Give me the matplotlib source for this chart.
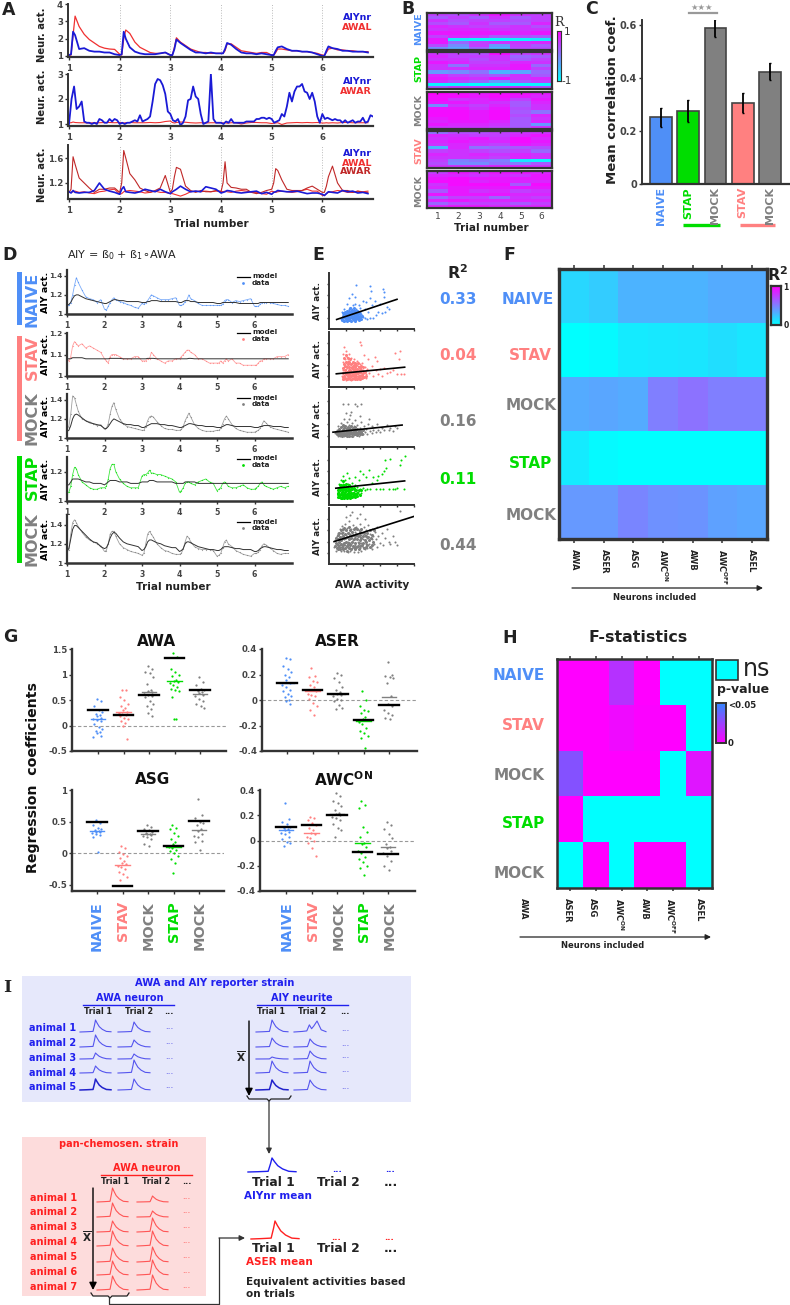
#!/usr/bin/env python3
"""Multi-panel AIY / AWA activity figure (A-I), laid out in pixel positions."""
import numpy as np
import matplotlib
matplotlib.use("Agg")
import matplotlib.pyplot as plt
from matplotlib.colors import LinearSegmentedColormap
from matplotlib.patches import Rectangle

W, H = 790, 1305
C_NAIVE, C_STAV, C_MOCK, C_STAP = "#4f8ff7", "#ff8080", "#808080", "#00dd00"
C_DARK = "#333333"
C_BLUE, C_RED, C_DRED = "#1a1ad6", "#f03030", "#c02828"
C_IB, C_IR = "#2020ee", "#ff2020"

# ---------- data: panel A ----------
A_OFFS = [0, .04, .08, .12, .2, .3, .4, .5, .6, .7, .8, .9]
A1_RED = [1.05, 1.05, 2.2, 3.3, 2.7, 2.25, 1.95, 1.75, 1.55, 1.45, 1.4, 1.38,
          1.1, 1.05, 2.0, 2.5, 2.3, 1.8, 1.5, 1.35, 1.2, 1.15, 1.15, 1.2,
          1.05, 1.05, 1.5, 2.05, 1.8, 1.6, 1.4, 1.3, 1.2, 1.2, 1.15, 1.15,
          1.15, 1.15, 1.3, 1.7, 1.7, 1.5, 1.3, 1.25, 1.2, 1.15, 1.2, 1.2,
          1.05, 1.05, 1.2, 1.4, 1.4, 1.35, 1.3, 1.3, 1.25, 1.25, 1.2, 1.15,
          1.05, 1.05, 1.2, 1.4, 1.45, 1.35, 1.35, 1.3, 1.3, 1.25, 1.25, 1.25]
A1_BLUE = [1.05, 1.1, 2.4, 2.2, 1.4, 1.45, 1.3, 1.25, 1.25, 1.2, 1.2, 1.1,
           1.05, 1.1, 2.4, 2.0, 1.5, 1.25, 1.15, 1.1, 1.1, 1.1, 1.15, 1.2,
           1.05, 1.05, 1.4, 1.95, 1.75, 1.55, 1.35, 1.2, 1.2, 1.15, 1.2, 1.15,
           1.15, 1.15, 1.4, 1.75, 1.65, 1.4, 1.2, 1.15, 1.15, 1.1, 1.15, 1.1,
           1.05, 1.05, 1.3, 1.5, 1.55, 1.4, 1.3, 1.3, 1.25, 1.25, 1.2, 1.1,
           1.0, 1.0, 1.3, 1.55, 1.45, 1.4, 1.3, 1.3, 1.25, 1.25, 1.25, 1.2]
A2_BLUE = [1.0, 2.0, 2.5, 1.6, 1.7, 1.9, 1.1, 1.05, 1.05, 1.0, 1.05, 1.0, 1.2, 1.15, 1.05, 1.05, 1.2, 1.1, 1.2, 1.15,
           1.0, 1.05, 1.0, 1.05, 1.05, 1.1, 1.15, 1.1, 1.35, 1.1, 1.15, 1.2, 1.3, 1.9, 2.6, 2.8, 2.75, 2.55, 2.2, 1.5,
           1.4, 1.15, 1.1, 1.2, .95, 1.05, 1.3, 1.95, 2.0, 2.5, 2.1, 2.0, 1.4, 1.0, 1.05, 1.1, 3.0, 1.2, 1.05, 1.05,
           1.05, 1.0, 1.1, 1.05, 1.2, 1.05, 1.05, 1.05, 1.05, 1.05, 1.1, 1.1, 1.1, 1.1, 1.2, 1.2, 1.25, 1.25, 1.2, 1.25,
           1.2, 1.05, 1.1, 1.15, 1.4, 1.3, 1.7, 2.25, 1.9, 2.3, 2.5, 2.5, 2.6, 2.3, 2.25, 2.0, 2.25, 1.9, 1.3, 1.05,
           1.4, 1.2, 1.25, 1.2, 1.15, 1.2, 1.15, 1.15, 1.05, 1.15, 1.05, 1.1, 1.15, 1.05, 1.1, 1.1, 1.25, 1.05, 1.1, 1.35, 1.3]
A2_RED = [1.05, 1.05, 1.08, 1.06, 1.05, 1.05, 1.04, 1.05, 1.05, 1.06, 1.06, 1.05,
          1.06, 1.05, 1.04, 1.05, 1.06, 1.05, 1.05, 1.05, 1.06, 1.05, 1.06, 1.1,
          1.12, 1.06, 1.04, 1.06, 1.08, 1.07, 1.05, 1.04, 1.05, 1.04, 1.05, 1.05,
          1.05, 1.04, 1.06, 1.03, 1.05, 1.05, 1.0, 1.04, 1.06, 1.06, 1.05, 1.05,
          1.02, 1.03, 1.04, 1.05, .98, 1.04, 1.05, 1.06, 1.05, 1.06, 1.05, 1.06,
          1.04, 1.04, 1.05, 1.04, 1.05, 1.04, 1.06, 1.06, 1.05, 1.05, 1.05, 1.05]
A3_RED = [1.05, 1.05, 1.06, 1.07, 1.05, 1.06, 1.04, 1.03, 1.06, 1.07, 1.09, 1.1,
          1.02, 1.03, 1.06, 1.07, 1.08, 1.07, 1.06, 1.04, 1.05, 1.07, 1.05, 1.05,
          1.03, 1.03, 1.02, 1.01, .99, 1.02, 1.06, 1.07, 1.06, 1.07, 1.06, 1.07,
          1.07, 1.06, 1.07, 1.06, 1.05, 1.07, 1.08, 1.07, 1.05, 1.05, 1.03, 1.02,
          1.07, 1.06, 1.05, 1.06, 1.07, 1.06, 1.05, 1.06, 1.08, 1.1, 1.07, 1.07,
          1.0, 1.0, 1.03, 1.05, 1.06, 1.08, 1.07, 1.05, 1.05, 1.07, 1.06, 1.07]
A3_DRED = [1.05, 1.1, 1.62, 1.5, 1.28, 1.2, 1.12, 1.05, 1.1, 1.1, 1.12, 1.12,
           1.05, 1.2, 1.72, 1.6, 1.35, 1.25, 1.12, 1.08, 1.05, 1.08, 1.12, 1.32,
           1.05, 1.1, 1.3, 1.45, 1.42, 1.15, 1.08, 1.05, 1.08, 1.06, 1.06, 1.08,
           1.06, 1.2, 1.54, 1.2, 1.13, 1.12, 1.1, 1.1, 1.05, 1.03, 1.05, 1.08,
           1.1, 1.2, 1.43, 1.4, 1.25, 1.1, 1.08, 1.08, 1.08, 1.12, 1.15, 1.1,
           1.05, 1.05, 1.15, 1.3, 1.47, 1.2, 1.08, 1.08, 1.05, 1.07, 1.05, 1.05]
A3_BLUE = [1.06, 1.04, 1.08, 1.05, 1.04, 1.05, 1.05, 1.08, 1.2, 1.1, 1.07, 1.05,
           1.02, 1.1, 1.14, 1.06, 1.05, 1.04, 1.06, 1.1, 1.08, 1.06, 1.1, 1.06,
           1.03, 1.06, 1.08, 1.1, 1.15, 1.1, 1.06, 1.07, 1.06, 1.14, 1.12, 1.1,
           1.04, 1.05, 1.06, 1.08, 1.07, 1.05, 1.04, 1.05, 1.06, 1.07, 1.03, 1.05,
           1.02, 1.05, 1.06, 1.08, 1.07, 1.06, 1.06, 1.07, 1.05, 1.03, 1.04, 1.04,
           1.02, 1.0, 1.03, 1.06, 1.05, 1.04, 1.08, 1.06, 1.07, 1.04, 1.05, 1.03]

# ---------- data: panel B ----------
B_NAIVE = [[.5, .4, .6, .8, .6, .5], [.3, .5, .3, .6, .3, .5], [.6, .4, .5, .5, .4, .5],
           [.4, .3, .6, .3, .3, .7], [.7, .6, .5, .5, .6, .4], [.6, .7, .7, .6, .6, .6],
           [.8, .8, .8, .8, .7, .8], [.5, .7, .6, .3, .4, .3], [.8, -.8, -.9, -.9, -.9, -.8],
           [.8, .2, .5, .6, .6, .7], [.4, -.1, .5, -.2, .5, .3], [-.1, -.3, .2, -.4, .4, .4]]
B_STAP = [[.6, .5, .4, .9, .5, .6], [.7, .5, .5, .6, .2, .3], [.6, .6, .4, .6, .3, .5],
          [.8, .7, .5, .5, .7, .6], [.6, .1, .6, .6, .8, .2], [.6, .6, .7, .7, .8, .5],
          [-.2, -.1, .1, -.4, -.3, .2], [.7, .5, .4, .3, .6, .3], [.8, .7, .6, .8, .6, .7],
          [.6, .4, .2, -.2, .3, .5], [-.9, -.9, -1, -.9, -.9, -.9], [.3, .5, .5, .6, .6, .4]]
B_MOCK1 = [[1, .9, .8, .9, .9, .8], [.9, .9, .8, .9, .8, .7], [.9, .6, .7, .8, .5, .8],
           [.8, .8, .7, .6, .3, .7], [-.1, .6, .5, .7, .3, .6], [.8, .8, .6, .8, .4, .6],
           [.9, .9, .8, .9, .3, .1], [.9, .9, .8, .9, .4, .7], [.8, .9, .8, .9, .3, .6],
           [.7, .8, .8, .7, .3, .7], [.8, .7, .7, .6, .3, -.2], [.6, .6, .6, .5, .3, .6]]
B_STAV = [[.1, .4, .4, .5, .6, .6], [.7, .6, .5, .5, .7, .8], [.6, .7, .8, .6, .9, .7],
          [.7, .8, .7, .7, .9, .8], [.6, .7, .6, .5, .8, .7], [-.4, .7, .1, .2, .3, .4],
          [.5, .6, .5, .4, .5, .2], [.7, .6, .7, .6, .7, .6], [.6, .6, .6, .5, .7, .6],
          [.5, .0, .1, .0, -.8, -.9], [.4, -.1, -.1, .1, .0, .3], [.6, .6, .6, .7, .7, .6]]
B_MOCK2 = [[.5, .8, .7, .8, .8, .7], [.7, .7, .6, .7, .6, .8], [.8, .9, .8, .8, .8, .8],
           [.9, .9, .7, .8, .7, .7], [.6, .9, .9, .9, .3, .9], [.7, .8, .8, .8, .8, .8],
           [.3, .8, .6, .7, .5, .6], [.8, .8, .8, .8, .7, .7], [.2, .5, .5, .2, .6, .5],
           [.7, .8, .7, .7, .7, .7], [.2, .4, .5, .5, .3, .5], [.7, .8, .8, .7, .7, .7]]

# ---------- data: panel C ----------
C_LABELS = ["NAIVE", "STAP", "MOCK", "STAV", "MOCK"]
C_COLORS = [C_NAIVE, C_STAP, C_MOCK, C_STAV, C_MOCK]
C_VALS = [.252, .276, .588, .306, .425]
C_ERRS = [.036, .041, .034, .037, .032]

# ---------- data: panel D ----------
D_OFFS = [0, .05, .1, .15, .2, .25, .3, .4, .5, .6, .7, .8, .9]
D1_DATA = [1.08, 1.09, 1.12, 1.2, 1.3, 1.38, 1.33, 1.25, 1.18, 1.16, 1.15, 1.12, 1.15,
           1.05, 1.04, 1.08, 1.12, 1.15, 1.17, 1.15, 1.13, 1.12, 1.1, 1.09, 1.07, 1.06,
           1.11, 1.1, 1.12, 1.14, 1.17, 1.2, 1.19, 1.17, 1.15, 1.15, 1.15, 1.16, 1.17,
           1.09, 1.09, 1.1, 1.13, 1.15, 1.2, 1.16, 1.14, 1.11, 1.09, 1.09, 1.09, 1.09,
           1.09, 1.09, 1.09, 1.1, 1.14, 1.15, 1.15, 1.12, 1.14, 1.13, 1.14, 1.15, 1.16,
           1.08, 1.08, 1.08, 1.1, 1.12, 1.12, 1.12, 1.12, 1.11, 1.1, 1.09, 1.09, 1.08]
D1_MODEL = [1.09, 1.1, 1.12, 1.16, 1.19, 1.2, 1.2, 1.18, 1.16, 1.15, 1.14, 1.13, 1.12,
            1.11, 1.11, 1.12, 1.13, 1.14, 1.15, 1.15, 1.14, 1.14, 1.13, 1.13, 1.13, 1.13,
            1.12, 1.12, 1.12, 1.13, 1.13, 1.14, 1.14, 1.14, 1.13, 1.13, 1.13, 1.13, 1.13,
            1.12, 1.12, 1.13, 1.14, 1.14, 1.14, 1.13, 1.13, 1.12, 1.12, 1.12, 1.12, 1.12,
            1.11, 1.11, 1.11, 1.12, 1.12, 1.12, 1.12, 1.12, 1.12, 1.11, 1.11, 1.11, 1.11,
            1.11, 1.11, 1.11, 1.12, 1.12, 1.12, 1.12, 1.12, 1.12, 1.12, 1.12, 1.12, 1.12]
D2_DATA = [1.08, 1.07, 1.09, 1.14, 1.16, 1.15, 1.14, 1.15, 1.13, 1.14, 1.13, 1.12, 1.11,
           1.08, 1.07, 1.06, 1.09, 1.1, 1.1, 1.1, 1.09, 1.08, 1.08, 1.08, 1.09, 1.09,
           1.07, 1.07, 1.07, 1.08, 1.08, 1.11, 1.1, 1.08, 1.07, 1.06, 1.07, 1.07, 1.08,
           1.08, 1.09, 1.1, 1.11, 1.12, 1.12, 1.11, 1.1, 1.08, 1.08, 1.07, 1.06, 1.06,
           1.06, 1.06, 1.07, 1.06, 1.07, 1.08, 1.07, 1.08, 1.06, 1.06, 1.05, 1.05, 1.05,
           1.05, 1.05, 1.06, 1.07, 1.07, 1.08, 1.08, 1.08, 1.08, 1.09, 1.09, 1.09, 1.1]
D2_MODEL = [1.08, 1.08, 1.08, 1.085, 1.085, 1.085, 1.085, 1.085, 1.08, 1.08, 1.08, 1.08, 1.08,
            1.08, 1.08, 1.08, 1.082, 1.082, 1.082, 1.082, 1.082, 1.08, 1.08, 1.08, 1.08, 1.08,
            1.08, 1.08, 1.08, 1.082, 1.082, 1.082, 1.082, 1.08, 1.08, 1.08, 1.08, 1.08, 1.08,
            1.08, 1.08, 1.08, 1.08, 1.08, 1.082, 1.082, 1.08, 1.08, 1.08, 1.08, 1.08, 1.08,
            1.08, 1.08, 1.08, 1.08, 1.08, 1.08, 1.08, 1.08, 1.08, 1.08, 1.08, 1.08, 1.08,
            1.08, 1.08, 1.08, 1.08, 1.08, 1.08, 1.08, 1.08, 1.08, 1.08, 1.08, 1.08, 1.08]
D3_DATA = [1.1, 1.12, 1.25, 1.44, 1.42, 1.35, 1.28, 1.2, 1.18, 1.17, 1.15, 1.13, 1.14,
           1.09, 1.1, 1.15, 1.25, 1.33, 1.37, 1.3, 1.2, 1.15, 1.12, 1.11, 1.1, 1.09,
           1.08, 1.08, 1.12, 1.18, 1.22, 1.23, 1.22, 1.17, 1.13, 1.1, 1.09, 1.09, 1.08,
           1.08, 1.09, 1.12, 1.18, 1.22, 1.26, 1.22, 1.14, 1.1, 1.08, 1.07, 1.07, 1.07,
           1.08, 1.08, 1.1, 1.15, 1.2, 1.23, 1.2, 1.14, 1.1, 1.08, 1.07, 1.06, 1.06,
           1.06, 1.07, 1.08, 1.1, 1.14, 1.18, 1.16, 1.12, 1.1, 1.09, 1.08, 1.07, 1.06]
D3_MODEL = [1.07, 1.08, 1.13, 1.2, 1.24, 1.25, 1.24, 1.21, 1.18, 1.16, 1.15, 1.14, 1.13,
            1.1, 1.1, 1.12, 1.15, 1.18, 1.2, 1.19, 1.17, 1.15, 1.14, 1.14, 1.13, 1.13,
            1.11, 1.11, 1.12, 1.13, 1.14, 1.15, 1.15, 1.15, 1.14, 1.14, 1.13, 1.13, 1.12,
            1.11, 1.11, 1.12, 1.13, 1.14, 1.15, 1.15, 1.14, 1.13, 1.13, 1.12, 1.12, 1.12,
            1.11, 1.11, 1.11, 1.12, 1.13, 1.14, 1.14, 1.13, 1.12, 1.12, 1.12, 1.12, 1.12,
            1.11, 1.11, 1.11, 1.12, 1.12, 1.13, 1.13, 1.13, 1.12, 1.12, 1.12, 1.11, 1.11]
D4_DATA = [1.05, 1.06, 1.1, 1.18, 1.23, 1.22, 1.18, 1.13, 1.11, 1.09, 1.08, 1.08, 1.09,
           1.09, 1.1, 1.15, 1.22, 1.25, 1.25, 1.2, 1.15, 1.12, 1.1, 1.09, 1.09, 1.09,
           1.17, 1.18, 1.18, 1.19, 1.21, 1.19, 1.19, 1.18, 1.18, 1.17, 1.16, 1.15, 1.13,
           1.06, 1.07, 1.09, 1.12, 1.13, 1.13, 1.12, 1.11, 1.13, 1.14, 1.15, 1.13, 1.12,
           1.07, 1.08, 1.09, 1.12, 1.13, 1.12, 1.1, 1.09, 1.09, 1.1, 1.11, 1.09, 1.08,
           1.08, 1.09, 1.1, 1.12, 1.13, 1.11, 1.1, 1.09, 1.08, 1.09, 1.1, 1.09, 1.1]
D4_MODEL = [1.11, 1.11, 1.13, 1.15, 1.15, 1.15, 1.15, 1.14, 1.13, 1.13, 1.12, 1.12, 1.12,
            1.11, 1.12, 1.13, 1.14, 1.14, 1.14, 1.14, 1.13, 1.13, 1.13, 1.12, 1.12, 1.12,
            1.13, 1.13, 1.13, 1.13, 1.14, 1.14, 1.14, 1.13, 1.13, 1.13, 1.13, 1.13, 1.12,
            1.12, 1.12, 1.12, 1.13, 1.13, 1.13, 1.13, 1.13, 1.12, 1.12, 1.12, 1.12, 1.12,
            1.12, 1.12, 1.12, 1.12, 1.12, 1.12, 1.12, 1.12, 1.12, 1.12, 1.12, 1.12, 1.12,
            1.12, 1.12, 1.12, 1.12, 1.12, 1.12, 1.12, 1.12, 1.12, 1.12, 1.12, 1.12, 1.12]
D5_DATA = [1.12, 1.14, 1.3, 1.42, 1.45, 1.42, 1.38, 1.32, 1.27, 1.24, 1.22, 1.2, 1.18,
           1.12, 1.13, 1.2, 1.3, 1.33, 1.33, 1.28, 1.2, 1.16, 1.14, 1.12, 1.11, 1.1,
           1.08, 1.1, 1.2, 1.3, 1.33, 1.3, 1.27, 1.2, 1.16, 1.13, 1.12, 1.1, 1.09,
           1.09, 1.1, 1.15, 1.22, 1.28, 1.26, 1.22, 1.17, 1.15, 1.14, 1.14, 1.14, 1.13,
           1.07, 1.08, 1.1, 1.16, 1.22, 1.24, 1.2, 1.17, 1.13, 1.11, 1.09, 1.08, 1.07,
           1.1, 1.1, 1.11, 1.14, 1.18, 1.2, 1.19, 1.16, 1.13, 1.1, 1.09, 1.1, 1.1]
D5_MODEL = [1.13, 1.15, 1.25, 1.35, 1.39, 1.39, 1.37, 1.33, 1.29, 1.25, 1.22, 1.21, 1.17,
            1.15, 1.16, 1.2, 1.26, 1.3, 1.32, 1.31, 1.26, 1.22, 1.2, 1.19, 1.18, 1.17,
            1.13, 1.14, 1.17, 1.22, 1.24, 1.24, 1.23, 1.21, 1.2, 1.18, 1.17, 1.16, 1.16,
            1.12, 1.13, 1.15, 1.2, 1.22, 1.22, 1.21, 1.19, 1.17, 1.16, 1.15, 1.14, 1.14,
            1.13, 1.13, 1.14, 1.16, 1.17, 1.17, 1.17, 1.16, 1.15, 1.15, 1.14, 1.14, 1.14,
            1.12, 1.12, 1.13, 1.15, 1.16, 1.17, 1.17, 1.16, 1.15, 1.14, 1.14, 1.13, 1.13]

# ---------- data: panel E (axes fractions) ----------
E1_PTS = [(.14,.18),(.16,.2),(.17,.15),(.18,.24),(.19,.19),(.2,.27),(.2,.16),(.21,.22),(.22,.3),(.22,.18),
          (.23,.25),(.23,.35),(.24,.2),(.24,.28),(.25,.16),(.25,.32),(.26,.24),(.26,.38),(.27,.2),(.27,.29),
          (.28,.26),(.28,.42),(.29,.22),(.29,.34),(.3,.18),(.3,.3),(.31,.25),(.31,.44),(.32,.22),(.32,.36),
          (.33,.28),(.33,.2),(.34,.33),(.35,.24),(.35,.42),(.36,.3),(.37,.2),(.37,.38),(.38,.27),(.4,.22),
          (.4,.5),(.42,.2),(.42,.36),(.44,.48),(.45,.18),(.46,.3),(.48,.55),(.48,.2),(.5,.42),(.52,.2),
          (.54,.5),(.55,.25),(.58,.3),(.6,.45),(.62,.28),(.65,.58),(.66,.3),(.68,.4),(.7,.35),(.32,.78),
          (.48,.76),(.49,.68),(.63,.72),(.65,.66),(.18,.36),(.15,.3),(.21,.44),(.24,.55),(.27,.62),(.3,.58)]
E1_BLOB = [(.15,.16),(.16,.24),(.17,.2),(.17,.28),(.18,.15),(.18,.22),(.19,.26),(.19,.31),(.2,.18),(.2,.23),
           (.21,.14),(.21,.27),(.21,.33),(.22,.2),(.22,.24),(.23,.16),(.23,.29),(.24,.22),(.24,.33),(.25,.19),
           (.25,.26),(.25,.37),(.26,.15),(.26,.21),(.26,.3),(.27,.24),(.27,.34),(.28,.18),(.28,.21),(.28,.31),
           (.29,.16),(.29,.27),(.29,.38),(.3,.23),(.3,.26),(.31,.15),(.31,.2),(.31,.33),(.32,.27),(.32,.17),
           (.33,.23),(.33,.32),(.34,.19),(.34,.27),(.35,.16),(.35,.3),(.36,.22),(.37,.26),(.38,.18),(.39,.24)]
E2_PTS = [(.15,.2),(.16,.3),(.17,.45),(.17,.6),(.18,.15),(.18,.36),(.18,.72),(.19,.25),(.19,.5),(.2,.12),
          (.2,.32),(.2,.66),(.21,.2),(.21,.42),(.21,.55),(.22,.28),(.22,.14),(.22,.48),(.23,.36),(.23,.22),
          (.24,.6),(.24,.3),(.24,.16),(.25,.42),(.25,.24),(.26,.34),(.26,.13),(.26,.52),(.27,.2),(.27,.44),
          (.28,.28),(.28,.16),(.28,.38),(.29,.5),(.29,.24),(.3,.14),(.3,.34),(.31,.42),(.31,.22),(.32,.3),
          (.32,.16),(.33,.48),(.33,.26),(.34,.2),(.34,.38),(.35,.3),(.35,.14),(.36,.42),(.36,.22),(.37,.35),
          (.38,.26),(.38,.16),(.39,.44),(.4,.3),(.4,.2),(.41,.58),(.42,.36),(.43,.24),(.44,.16),(.45,.32),
          (.37,.82),(.38,.76),(.46,.5),(.47,.26),(.5,.38),(.52,.2),(.54,.54),(.55,.3),(.57,.48),(.58,.24),
          (.6,.32),(.62,.2),(.65,.34),(.68,.26),(.72,.28),(.75,.3),(.78,.62),(.8,.24),(.82,.5),(.85,.24),
          (.88,.24),(.84,.65)]
E2_BLOB = [(.16,.18),(.16,.26),(.17,.14),(.17,.34),(.18,.2),(.18,.42),(.18,.52),(.19,.16),(.19,.3),(.19,.38),
           (.2,.24),(.2,.46),(.2,.58),(.21,.14),(.21,.28),(.21,.36),(.22,.2),(.22,.42),(.22,.52),(.23,.16),
           (.23,.3),(.23,.46),(.24,.24),(.24,.36),(.24,.2),(.25,.14),(.25,.3),(.25,.5),(.26,.2),(.26,.28),
           (.26,.42),(.27,.14),(.27,.26),(.27,.36),(.28,.22),(.28,.32),(.28,.46),(.29,.16),(.29,.3),(.29,.4),
           (.3,.2),(.3,.26),(.3,.44),(.31,.15),(.31,.3),(.31,.36),(.32,.2),(.32,.26),(.32,.4),(.33,.14),
           (.33,.32),(.34,.16),(.34,.26),(.34,.44),(.35,.2),(.35,.36),(.36,.15),(.36,.28),(.36,.34),(.37,.2),
           (.37,.27),(.38,.3),(.38,.38),(.39,.16),(.39,.22),(.4,.26),(.4,.36),(.41,.18),(.42,.28),(.43,.2)]
E3_PTS = [(.07,.24),(.09,.3),(.1,.2),(.11,.36),(.12,.26),(.13,.2),(.14,.42),(.15,.3),(.16,.23),(.17,.36),
          (.18,.2),(.18,.5),(.19,.28),(.2,.34),(.2,.22),(.21,.44),(.22,.3),(.23,.2),(.23,.38),(.24,.25),
          (.25,.56),(.25,.33),(.26,.22),(.27,.42),(.28,.28),(.28,.2),(.29,.36),(.3,.24),(.3,.48),(.31,.3),
          (.32,.22),(.33,.38),(.34,.27),(.35,.2),(.36,.33),(.37,.24),(.38,.44),(.39,.3),(.4,.22),(.41,.36),
          (.42,.26),(.44,.32),(.45,.22),(.46,.4),(.48,.28),(.5,.24),(.5,.36),(.52,.3),(.55,.26),(.57,.4),
          (.58,.3),(.6,.27),(.62,.34),(.65,.3),(.68,.38),(.7,.3),(.72,.34),(.75,.28),(.78,.36),(.8,.33),
          (.16,.75),(.22,.76),(.3,.76),(.33,.72),(.38,.76),(.2,.6),(.26,.62),(.36,.55),(.47,.5),(.24,.5)]
E3_BLOB = [(.08,.26),(.09,.22),(.1,.28),(.11,.24),(.12,.32),(.12,.21),(.13,.27),(.14,.23),(.14,.35),(.15,.25),
           (.15,.2),(.16,.3),(.16,.38),(.17,.22),(.17,.27),(.18,.33),(.18,.25),(.19,.21),(.19,.36),(.2,.28),
           (.21,.24),(.21,.31),(.21,.2),(.22,.35),(.22,.26),(.23,.23),(.23,.3),(.24,.2),(.24,.34),(.25,.27),
           (.26,.3),(.26,.36),(.27,.24),(.27,.2),(.28,.33),(.29,.26),(.29,.22),(.3,.29),(.31,.35),(.31,.23),
           (.32,.27),(.33,.21),(.33,.31),(.34,.24),(.35,.28),(.36,.23),(.37,.3),(.38,.26),(.39,.22),(.4,.29)]
E4_PTS = [(.1,.18),(.11,.3),(.12,.24),(.12,.38),(.13,.2),(.14,.45),(.14,.28),(.15,.16),(.15,.34),(.16,.24),
          (.16,.52),(.17,.2),(.17,.38),(.18,.28),(.18,.16),(.19,.44),(.19,.24),(.2,.32),(.2,.18),(.21,.58),
          (.21,.26),(.22,.2),(.22,.38),(.23,.28),(.23,.16),(.24,.48),(.24,.24),(.25,.34),(.25,.18),(.26,.26),
          (.27,.4),(.27,.2),(.28,.3),(.28,.17),(.29,.24),(.3,.36),(.3,.2),(.31,.28),(.32,.18),(.33,.32),
          (.34,.24),(.35,.2),(.35,.44),(.37,.28),(.38,.22),(.4,.3),(.4,.56),(.42,.26),(.44,.5),(.45,.28),
          (.47,.62),(.48,.28),(.5,.4),(.52,.5),(.55,.28),(.57,.44),(.58,.52),(.6,.28),(.62,.56),(.63,.28),
          (.65,.6),(.67,.66),(.7,.28),(.75,.28),(.78,.28),(.8,.3),(.83,.72),(.85,.8),(.88,.28),(.89,.88),
          (.66,.8),(.72,.82),(.3,.5),(.36,.6)]
E4_BLOB = [(.1,.22),(.1,.14),(.11,.2),(.11,.26),(.12,.14),(.12,.3),(.13,.26),(.13,.35),(.13,.17),(.14,.2),
           (.14,.12),(.14,.36),(.15,.24),(.15,.3),(.15,.13),(.16,.18),(.16,.32),(.16,.42),(.17,.14),(.17,.27),
           (.17,.33),(.18,.2),(.18,.36),(.18,.12),(.19,.3),(.19,.17),(.19,.24),(.2,.14),(.2,.26),(.2,.38),
           (.21,.2),(.21,.32),(.21,.13),(.22,.25),(.22,.3),(.22,.16),(.23,.22),(.23,.35),(.24,.14),(.24,.28),
           (.24,.18),(.25,.26),(.25,.13),(.26,.22),(.26,.32),(.26,.16),(.27,.28),(.27,.14),(.28,.22),(.29,.16),
           (.29,.3),(.3,.26),(.3,.15),(.31,.2),(.32,.26),(.33,.16),(.33,.22),(.35,.26),(.36,.17),(.38,.26)]
E5_PTS = [(.06,.3),(.07,.42),(.08,.24),(.09,.5),(.1,.34),(.1,.56),(.11,.26),(.12,.44),(.13,.62),(.13,.34),
          (.14,.24),(.15,.5),(.15,.68),(.16,.36),(.16,.28),(.17,.58),(.18,.44),(.18,.24),(.19,.72),(.19,.34),
          (.2,.52),(.2,.28),(.21,.64),(.22,.4),(.22,.22),(.23,.56),(.23,.3),(.24,.76),(.24,.46),(.25,.24),
          (.26,.62),(.26,.36),(.27,.5),(.27,.28),(.28,.7),(.28,.42),(.29,.22),(.3,.58),(.3,.34),(.31,.46),
          (.31,.26),(.32,.66),(.33,.52),(.33,.3),(.34,.4),(.34,.22),(.35,.6),(.36,.48),(.36,.28),(.37,.72),
          (.38,.38),(.38,.24),(.39,.56),(.4,.44),(.4,.3),(.41,.66),(.42,.52),(.42,.26),(.43,.36),(.44,.6),
          (.45,.46),(.45,.28),(.46,.7),(.47,.36),(.48,.54),(.49,.3),(.5,.62),(.5,.44),(.51,.26),(.52,.5),
          (.53,.36),(.54,.58),(.55,.44),(.56,.3),(.57,.66),(.58,.5),(.6,.38),(.62,.56),(.64,.34),(.66,.46),
          (.68,.62),(.7,.4),(.72,.36),(.75,.5),(.78,.4),(.8,.34),(.25,.88),(.27,.92),(.36,.9),(.33,.82),
          (.2,.84),(.42,.8),(.84,.95)]
E5_BLOB = [(.07,.32),(.08,.38),(.08,.46),(.09,.28),(.09,.36),(.1,.44),(.1,.26),(.11,.52),(.11,.34),(.12,.3),
           (.12,.4),(.12,.56),(.13,.26),(.13,.48),(.14,.36),(.14,.6),(.14,.42),(.15,.3),(.15,.56),(.16,.46),
           (.16,.62),(.17,.34),(.17,.26),(.17,.5),(.18,.38),(.18,.64),(.19,.54),(.19,.28),(.19,.46),(.2,.4),
           (.2,.6),(.21,.32),(.21,.48),(.21,.24),(.22,.56),(.22,.36),(.23,.44),(.23,.66),(.24,.28),(.24,.38),
           (.25,.52),(.25,.6),(.25,.34),(.26,.46),(.26,.26),(.27,.58),(.27,.4),(.28,.32),(.28,.52),(.29,.62),
           (.29,.44),(.29,.3),(.3,.5),(.3,.26),(.31,.38),(.31,.64),(.32,.54),(.32,.3),(.33,.44),(.33,.62),
           (.34,.32),(.34,.5),(.35,.38),(.35,.26),(.36,.58),(.36,.42),(.37,.32),(.37,.52),(.38,.46),(.38,.62),
           (.39,.34),(.4,.5),(.4,.38),(.41,.28),(.41,.56),(.42,.42),(.43,.5),(.43,.3),(.44,.4),(.45,.56),
           (.45,.34),(.46,.48),(.47,.42),(.48,.3),(.48,.6),(.49,.46),(.5,.34),(.51,.52),(.52,.4),(.53,.6)]
E_FITS = [([.09, .80], [.17, .53]), ([.086, .89], [.24, .36]), ([.047, .86], [.26, .385]),
          ([.08, .89], [.30, .43]), ([.06, 1.0], [.40, .85])]
E_R2 = ["0.33", "0.04", "0.16", "0.11", "0.44"]

# ---------- data: panel F ----------
NEURONS_F = ["AWA", "ASER", "ASG", "AWC$^{\\mathbf{ON}}$", "AWB", "AWC$^{\\mathbf{OFF}}$", "ASEL"]
F_VALS = [[.16, .2, .3, .3, .3, .33, .33],
          [.0, .02, .08, .09, .1, .13, .1],
          [.33, .35, .33, .5, .55, .5, .5],
          [.08, .02, 0, 0, 0, 0, 0],
          [.4, .4, .48, .43, .42, .37, .35]]

# ---------- data: panel G ----------
G_LABELS = ["NAIVE", "STAV", "MOCK", "STAP", "MOCK"]
G_COLORS = [C_NAIVE, C_STAV, C_MOCK, C_STAP, C_MOCK]
G_AWA = [[.52, .48, .38, .3, .27, .22, .2, .18, .15, .13, .1, .08, .02, -.02, -.06, -.1, -.13, -.15, -.2, -.22],
         [.7, .7, .55, .5, .42, .38, .35, .3, .27, .25, .22, .2, .18, .15, .12, .08, .05, 0, -.27],
         [1.17, 1.1, 1.05, 1.02, .95, .82, .7, .68, .65, .62, .6, .58, .55, .48, .42, .38, .32, .25, .18],
         [1.42, 1.35, 1.1, 1.05, 1.0, .98, .9, .87, .85, .83, .8, .75, .72, .7, .68, .55, .13, .12],
         [.95, .85, .8, .72, .7, .68, .65, .63, .6, .58, .52, .48, .42, .38, .35]]
G_AWA_MEAN, G_AWA_MODEL = [.12, .26, .65, .87, .61], [.3, .2, .59, 1.33, .7]
G_ASER = [[.33, .32, .27, .24, .22, .2, .18, .16, .13, .12, .1, .08, .07, .05, .03, .02, 0, -.01, -.03],
          [.25, .19, .18, .15, .14, .12, .1, .08, .07, .05, .04, .03, .01, -.02, -.05, -.08, -.12],
          [.21, .2, .17, .14, .1, .08, .06, .05, .04, .03, .01, 0, -.01, -.04, -.06, -.07],
          [.07, 0, -.05, -.08, -.09, -.1, -.13, -.15, -.16, -.17, -.19, -.22, -.24, -.26, -.28, -.3, -.38],
          [.3, .2, .19, .18, .17, .13, .03, -.03, -.05, -.08, -.1, -.12, -.14, -.15]]
G_ASER_MEAN, G_ASER_MODEL = [.13, .07, .05, -.165, .025], [.13, .08, .05, -.16, -.04]
G_ASG = [[.52, .47, .44, .4, .38, .37, .35, .34, .33, .32, .3, .28, .25, .02],
         [.11, .08, .02, -.02, -.05, -.08, -.12, -.15, -.18, -.2, -.22, -.25, -.3, -.33, -.38, -.43],
         [.44, .42, .38, .36, .34, .32, .31, .3, .28, .27, .25, .22, .15, .11],
         [.45, .4, .38, .32, .27, .22, .18, .15, .12, .1, .08, .05, .03, 0, -.05, -.1, -.16, -.31],
         [.85, .6, .55, .5, .48, .44, .38, .35, .3, .27, .25, .2, .18, .05]]
G_ASG_MEAN, G_ASG_MODEL = [.35, -.19, .3, .1, .36], [.5, -.52, .35, .11, .51]
G_AWC = [[.3, .17, .15, .13, .11, .1, .09, .08, .07, .06, .05, .03, .01, -.01, -.02, -.04],
         [.19, .18, .16, .14, .12, .1, .08, .06, .05, .03, .02, 0, -.02, -.06, -.12],
         [.38, .35, .31, .3, .27, .24, .22, .21, .2, .19, .18, .16, .13, .1, .08, .03],
         [.31, .28, .26, .11, .07, .03, -.02, -.03, -.05, -.08, -.1, -.13, -.15, -.17, -.2, -.22, -.27],
         [.15, .12, .09, .05, .02, -.03, -.05, -.06, -.08, -.1, -.12, -.16, -.2, -.23]]
G_AWC_MEAN, G_AWC_MODEL = [.08, .06, .21, -.02, -.05], [.11, .125, .2, -.09, -.11]
G_JITTER = [-.05, .1, -.14, .03, .16, -.09, .06, -.02, .12, -.18]

# ---------- data: panel H (nan = not significant) ----------
NS = np.nan
H_P = [[0, 0, .018, 0, NS, NS],
       [0, 0, .004, .001, 0, NS],
       [.03, 0, 0, 0, NS, .008],
       [0, NS, NS, NS, NS, NS],
       [NS, 0, NS, 0, .001, NS]]
NEURONS_H = ["ASER", "ASG", "AWC$^{\\mathbf{ON}}$", "AWB", "AWC$^{\\mathbf{OFF}}$", "ASEL"]

# ---------- data: panel I schematic trace shapes ----------
PEAK_X = [0, .2, .42, .47, .5, .55, .62, .72, .85, 1.0]
PEAK_Y = [0, .02, .05, .6, 1, .75, .45, .22, .05, .02]
DBL_X = [0, .25, .4, .48, .55, .62, .72, .85, 1.0]
DBL_Y = [0, .05, .1, .65, .3, .55, 1, .2, .03]
IB_H1 = [12, 12, 6, 7, 11]
IB_H2 = [10, 7, 5, 13, 11]
IB_H3 = [12, 9, 2, 12, 10]
IB_H4 = [0, 8, 8, 12, 10]
IR_H1 = [14, 14, 11, 15, 14, 14, 14]
IR_H2 = [6, 6, 14, 15, 15, 15, 15]

# ---------- style ----------
plt.rcParams.update({
    "font.family": "DejaVu Sans", "font.size": 6.2, "font.weight": "bold",
    "mathtext.fontset": "dejavusans", "mathtext.default": "regular",
    "axes.edgecolor": C_DARK, "axes.linewidth": 1.4,
    "xtick.color": C_DARK, "ytick.color": C_DARK,
    "xtick.labelcolor": "#444444", "ytick.labelcolor": "#444444",
    "xtick.major.size": 2, "ytick.major.size": 2,
    "xtick.major.width": 1.0, "ytick.major.width": 1.0,
    "xtick.major.pad": 3, "ytick.major.pad": 1.5,
})
cool = plt.get_cmap("cool")

fig = plt.figure(figsize=(W / 100, H / 100), dpi=100)


def px_ax(l, t, r, b):
    ax = fig.add_axes([l / W, 1 - b / H, (r - l) / W, (b - t) / H])
    ax.patch.set_alpha(0)
    return ax


def clean(ax):
    ax.spines[["top", "right"]].set_visible(False)


ov = fig.add_axes([0, 0, 1, 1], zorder=5)
ov.set_xlim(0, W); ov.set_ylim(H, 0); ov.axis("off")


def lab(x, y, s, size=7, color="k", ha="center", va="center", rot=0, weight="bold", **kw):
    return ov.text(x, y, s, fontsize=size, color=color, ha=ha, va=va, rotation=rot,
                   fontweight=weight, **kw)


for x, y, s in [(9, 10, "A"), (408, 9, "B"), (591, 9, "C"), (10, 255, "D"), (318, 255, "E"),
                (509, 255, "F"), (10, 637, "G"), (510, 638, "H"), (7, 987, "I")]:
    lab(x, y, s, size=12.5, color="#222222", family="DejaVu Sans" if s != "I" else "DejaVu Serif")

# ===== Panel A =====
grid_A = np.concatenate([t + np.array(A_OFFS) for t in range(1, 7)])
grid_A2 = 1 + .05 * np.arange(len(A2_BLUE))


def panel_a(t, b, ylim, yticks, series):
    ax = px_ax(68, t, 373, b)
    clean(ax)
    for v in range(2, 7):
        ax.axvline(v, color="#bbbbbb", lw=.7, ls=":", zorder=0)
    for xs, ys, c, lw in series:
        ax.plot(xs, ys, color=c, lw=lw, solid_joinstyle="round")
    ax.set_xlim(.98, 7); ax.set_ylim(*ylim)
    ax.set_xticks(range(1, 7)); ax.set_yticks(yticks)
    ax.set_yticklabels([str(v) for v in yticks])
    ax.spines["bottom"].set_linewidth(1.6)
    return ax


panel_a(4, 57, (.94, 4), [1, 2, 3, 4],
        [(grid_A, A1_RED, C_RED, .9), (grid_A, A1_BLUE, C_BLUE, 1.3)])
panel_a(74, 126, (.92, 3), [1, 2, 3],
        [(grid_A, A2_RED, C_RED, .8), (grid_A2, A2_BLUE, C_BLUE, 1.3)])
panel_a(145, 199, (.944, 1.808), [1.2, 1.6],
        [(grid_A, A3_RED, C_RED, .8), (grid_A, A3_DRED, C_DRED, .8), (grid_A, A3_BLUE, C_BLUE, 1.2)])
for y in (35, 97, 175):
    lab(42, y, "Neur. act.", size=7.2, rot=90, color="#222222")
for y, s, c in [(17, "AIYnr", C_BLUE), (27, "AWAL", C_RED), (82, "AIYnr", C_BLUE), (91, "AWAR", C_RED),
                (153, "AIYnr", C_BLUE), (163, "AWAL", C_RED), (172, "AWAR", C_DRED)]:
    lab(372, y, s, size=6.8, color=c, ha="right")
lab(211, 224, "Trial number", size=7.5, color="#222222")

# ===== Panel B =====
B_ROWS = [B_NAIVE, B_STAP, B_MOCK1, B_STAV, B_MOCK2]
B_TOPS = [(13, 50), (52, 89), (92, 129), (131, 168), (171, 208)]
B_NAMES = [("NAIVE", C_NAIVE, 29), ("STAP", C_STAP, 69), ("MOCK", C_MOCK, 110), ("STAV", C_STAV, 151), ("MOCK", C_MOCK, 191)]
for i, (vals, (t, b)) in enumerate(zip(B_ROWS, B_TOPS)):
    ax = px_ax(427, t, 552, b)
    ax.imshow(vals, cmap=cool, vmin=-1, vmax=1, aspect="auto", interpolation="nearest")
    ax.set_yticks([])
    ax.set_xticks(range(6))
    ax.tick_params(axis="x", top=True, bottom=False, direction="in", length=1.5,
                   labelbottom=i == 4, pad=3)
    if i == 4:
        ax.set_xticklabels(range(1, 7), fontweight="normal", fontsize=6.5)
    for sp in ax.spines.values():
        sp.set_linewidth(1.6)
    lab(419, B_NAMES[i][2], B_NAMES[i][0], size=6.8, color=B_NAMES[i][1], rot=90)
cax = px_ax(557, 31, 561, 81)
cax.imshow(np.linspace(1, 0, 64)[:, None], cmap=cool, aspect="auto")
cax.set_xticks([]); cax.set_yticks([])
for sp in cax.spines.values():
    sp.set_linewidth(.8)
lab(559, 22, "R", size=9, color="#333333", weight="normal", family="DejaVu Serif")
lab(564, 32, "1", size=7.5, color="#333333", weight="normal", ha="left")
lab(561, 81, "-1", size=7.5, color="#333333", weight="normal", ha="left")
lab(491, 228, "Trial number", size=7.5, color="#222222")

# ===== Panel C =====
ax = px_ax(642, 20, 790, 184)
clean(ax)
pos = np.arange(1, 6)
ax.bar(pos, C_VALS, width=.8, color=C_COLORS, edgecolor="#444444", lw=1.2)
ax.errorbar(pos, C_VALS, yerr=C_ERRS, fmt="none", ecolor="k", elinewidth=1.3, capsize=1, capthick=1)
ax.set_xlim(.30, 5.74); ax.set_ylim(0, .62)
ax.set_yticks([0, .2, .4, .6]); ax.set_yticklabels(["0", "0.2", "0.4", "0.6"], fontsize=7)
ax.set_xticks([])
ax.spines["bottom"].set_linewidth(1.6)
for x, s, c in zip([661, 688, 715, 742, 770], C_LABELS, C_COLORS):
    lab(x, 187, s, size=8, color=c, rot=90, va="top")
lab(613, 100, "Mean correlation coef.", size=9.5, rot=90, color="#222222")
ov.plot([683, 720], [225, 225], color=C_STAP, lw=2.4, solid_capstyle="butt")
ov.plot([740, 775], [225, 225], color=C_STAV, lw=2.4, solid_capstyle="butt")
ov.plot([689, 717], [12.5, 12.5], color="#999999", lw=1.6)
lab(702, 7, "★★★", size=6, color="#999999")

# ===== Panel D =====
grid_D = np.concatenate([t + np.array(D_OFFS) for t in range(1, 7)])
D_PANELS = [(270, 314, (1, 1.46), [1, 1.2, 1.4], D1_DATA, D1_MODEL, C_NAIVE, 277),
            (333, 376, (1, 1.2), [1, 1.1, 1.2], D2_DATA, D2_MODEL, C_STAV, 333),
            (394, 438, (1, 1.46), [1, 1.2, 1.4], D3_DATA, D3_MODEL, C_MOCK, 398),
            (457, 501, (1, 1.3), [1, 1.2], D4_DATA, D4_MODEL, C_STAP, 459),
            (515, 563, (1, 1.5), [1, 1.2, 1.4], D5_DATA, D5_MODEL, C_MOCK, 522)]
for t, b, ylim, yt, data, model, col, leg_y in D_PANELS:
    ax = px_ax(67, t, 292, b)
    clean(ax)
    ax.plot(grid_D, data, color=col, lw=.6, alpha=.75, marker="o", ms=.9, mew=0)
    ax.plot(grid_D, model, color="#333333", lw=.7)
    ax.set_xlim(1, 7); ax.set_ylim(*ylim)
    ax.set_xticks(range(1, 7)); ax.set_yticks(yt)
    ax.set_yticklabels([f"{v:g}" for v in yt], fontsize=5.3)
    ax.tick_params(axis="x", labelsize=5.6)
    ax.tick_params(axis="y", pad=1)
    ax.spines["bottom"].set_linewidth(1.8)
    ax.spines["left"].set_linewidth(1.6)
    lab(46, (t + b) / 2, "AIY act.", size=6.8, rot=90)
    ov.plot([237, 250], [leg_y, leg_y], color="k", lw=.9)
    ov.plot([243], [leg_y + 6], "o", color=col, ms=2, mew=0)
    lab(252, leg_y - .5, "model", size=5.2, ha="left", color="#222222")
    lab(252, leg_y + 6, "data", size=5.2, ha="left", color="#222222")
ov.add_patch(Rectangle((17, 272), 5, 53, color=C_NAIVE, lw=0))
ov.add_patch(Rectangle((17, 336), 5, 105, color=C_STAV, lw=0))
ov.add_patch(Rectangle((17, 456), 5, 107, color=C_STAP, lw=0))
for y, s, c in [(299, "NAIVE", C_NAIVE), (358, "STAV", C_STAV), (418, "MOCK", C_MOCK),
                (477, "STAP", C_STAP), (539, "MOCK", C_MOCK)]:
    lab(32, y, s, size=11.5, color=c, rot=90)
lab(67, 255, "AIY = ß$_0$ + ß$_1$∘AWA", size=8, ha="left", weight="normal", color="#222222")
lab(173, 587, "Trial number", size=7.5, color="#222222")

# ===== Panel E =====
E_SETS = [E1_PTS, E2_PTS, E3_PTS, E4_PTS, E5_PTS]
E_BLOBS = [E1_BLOB, E2_BLOB, E3_BLOB, E4_BLOB, E5_BLOB]
E_BOX = [(273, 329), (332, 387), (390, 447), (449, 505), (508, 564)]
E_COL = [C_NAIVE, C_STAV, C_MOCK, C_STAP, C_MOCK]
E_Y = [300, 355, 421, 480, 546]
for pts, blob, (t, b), col, fit, r2, ry in zip(E_SETS, E_BLOBS, E_BOX, E_COL, E_FITS, E_R2, E_Y):
    ax = px_ax(329, t, 414, b)
    clean(ax)
    xs, ys = np.array(pts).T
    ax.scatter(xs, ys, s=2.2, color=col, lw=0)
    xs, ys = np.array(blob).T
    ax.scatter(xs, ys, s=5, color=col, lw=0)
    ax.plot(fit[0], fit[1], color="k", lw=1.2)
    ax.set_xlim(0, 1); ax.set_ylim(0, 1)
    ax.set_xticks([.2, .4, .6, .8, 1.0]); ax.set_yticks([.2, .4, .6, .8])
    ax.tick_params(labelbottom=False, labelleft=False, length=1.5)
    lab(317, (t + b) / 2, "AIY act.", size=6.3, rot=90, color="#222222")
    lab(458, ry, r2, size=11, color=col)
lab(372, 585, "AWA activity", size=7.5, color="#222222")
lab(458, 273, "R$^{\\mathbf{2}}$", size=11.5, color="#222222")

# ===== Panel F =====
ax = px_ax(559, 269, 767, 539)
ax.imshow(F_VALS, cmap=cool, vmin=0, vmax=1, aspect="auto", interpolation="nearest")
ax.set_xticks(range(7)); ax.set_yticks([])
ax.tick_params(axis="x", top=True, length=3, width=1.1, labelbottom=False)
for sp in ax.spines.values():
    sp.set_linewidth(2.4)
for x, s in zip([574, 604, 633, 663, 692, 722, 751], NEURONS_F):
    lab(x, 549, s, size=6, rot=270, va="top", color="#222222")
for x, y, s, c in [(528, 299, "NAIVE", C_NAIVE), (530, 355, "STAV", C_STAV), (531, 406, "MOCK", C_MOCK),
                   (531, 463, "STAP", C_STAP), (531, 515, "MOCK", C_MOCK)]:
    lab(x, y, s, size=11, color=c)
cax = px_ax(771, 286, 781, 325)
cax.imshow(np.linspace(1, 0, 64)[:, None], cmap=cool, aspect="auto")
cax.set_xticks([]); cax.set_yticks([])
for sp in cax.spines.values():
    sp.set_linewidth(1.6)
lab(778, 275, "R$^{\\mathbf{2}}$", size=11.5, color="#222222")
lab(786, 287, "1", size=5.5, color="#222222")
lab(786, 325, "0", size=5.5, color="#222222")


def long_arrow(x0, x1, y, head=8):
    ov.annotate("", xy=(x1, y), xytext=(x0, y),
                arrowprops=dict(arrowstyle="-|>", color="#222222", lw=.9, mutation_scale=head,
                                shrinkA=0, shrinkB=0))


long_arrow(572, 763, 588)
lab(655, 597, "Neurons included", size=6, color="#222222")


# ===== Panel G =====
def strip_panel(l, r, t, b, x1px, ylim, yt, groups, means, models, title, tx, ty):
    ax = px_ax(l, t, r, b)
    clean(ax)
    ax.axhline(0, color="#999999", lw=.8, ls=(0, (3, 2)), zorder=0)
    for i, (vals, m, bl, c) in enumerate(zip(groups, means, models, G_COLORS)):
        xs = [i + 1 + G_JITTER[k % len(G_JITTER)] for k in range(len(vals))]
        ax.scatter(xs, vals, s=2.6, color=c, lw=0, zorder=2)
        ax.plot([i + .72, i + 1.28], [m, m], color=c, lw=1.0, zorder=3)
        ax.plot([i + .62, i + 1.38], [bl, bl], color="k", lw=1.7, zorder=4)
    step = 25.5
    ax.set_xlim(1 - (x1px - l) / step, 1 + (r - x1px) / step)
    ax.set_ylim(*ylim)
    ax.set_xticks(range(1, 6)); ax.set_xticklabels([])
    ax.set_yticks(yt); ax.set_yticklabels([f"{v:g}" for v in yt], fontsize=6.2)
    ax.spines["bottom"].set_linewidth(1.7); ax.spines["left"].set_linewidth(1.7)
    lab(tx, ty, title, size=11, color="#111111")
    return ax


strip_panel(72, 226, 649, 751, 98, (-.5, 1.5), [-.5, 0, .5, 1, 1.5], G_AWA, G_AWA_MEAN, G_AWA_MODEL, "AWA", 156, 642)
strip_panel(262, 417, 649, 751, 287, (-.4, .4), [-.4, -.2, 0, .2, .4], G_ASER, G_ASER_MEAN, G_ASER_MODEL, "ASER", 337, 642)
strip_panel(72, 224, 790, 891, 97, (-.6, 1), [-.5, 0, .5, 1], G_ASG, G_ASG_MEAN, G_ASG_MODEL, "ASG", 153, 780)
strip_panel(260, 415, 790, 891, 286, (-.4, .4), [-.4, -.2, 0, .2, .4], G_AWC, G_AWC_MEAN, G_AWC_MODEL,
            "AWC$^{\\mathbf{ON}}$", 343, 780)
lab(33, 778, "Regression  coefficients", size=10.2, rot=90, color="#111111")
for xs in ([97, 123, 149, 174, 200], [287, 313, 339, 364, 390]):
    for x, s, c in zip(xs, G_LABELS, G_COLORS):
        lab(x, 901, s, size=10.4, color=c, rot=90, va="top")

# ===== Panel H =====
hmap = LinearSegmentedColormap.from_list("pv", ["#ff00ff", "#3388ff"])
hmap.set_bad("#00ffff")
ax = px_ax(557, 659, 712, 888)
ax.imshow(np.ma.masked_invalid(H_P), cmap=hmap, vmin=0, vmax=.05, aspect="auto", interpolation="nearest")
ax.set_xticks(range(6)); ax.set_yticks([])
ax.tick_params(axis="x", top=True, length=2.5, width=1.1, labelbottom=False)
for sp in ax.spines.values():
    sp.set_linewidth(1.8)
lab(638, 638, "F-statistics", size=11.3, color="#222222")
for y, s, c in [(675, "NAIVE", C_NAIVE), (725, "STAV", C_STAV), (775, "MOCK", C_MOCK),
                (824, "STAP", C_STAP), (874, "MOCK", C_MOCK)]:
    lab(545, y, s, size=11, color=c, ha="right")
lab(523, 898, "AWA", size=6, rot=270, va="top", color="#222222")
for x, s in zip([567, 592, 619, 644, 670, 699], NEURONS_H):
    lab(x, 898, s, size=6, rot=270, va="top", color="#222222")
long_arrow(520, 711, 937)
lab(603, 946, "Neurons included", size=6, color="#222222")
ov.add_patch(Rectangle((716, 660), 22, 20, fc="#00ffff", ec=C_DARK, lw=1.2))
lab(743, 669, "ns", size=17, ha="left", weight="normal", color="#222222")
lab(743, 690, "p-value", size=9, color="#222222")
cax = px_ax(716, 703, 726, 743)
cax.imshow(np.linspace(.05, 0, 64)[:, None], cmap=hmap, vmin=0, vmax=.05, aspect="auto")
cax.set_xticks([]); cax.set_yticks([])
for sp in cax.spines.values():
    sp.set_linewidth(1.4)
lab(728, 705, "<0.05", size=6.2, ha="left", color="#222222")
lab(728, 743, "0", size=6.2, ha="left", color="#222222")

# ===== Panel I =====
ov.add_patch(Rectangle((22, 976), 389, 126, fc="#e6e8fb", lw=0, zorder=0))
ov.add_patch(Rectangle((22, 1137), 184, 159, fc="#fddcdc", lw=0, zorder=0))


def mini(x0, x1, base, h, color, shape=(PEAK_X, PEAK_Y), lw=.8):
    xs = x0 + (x1 - x0) * np.array(shape[0])
    ys = base - h * np.array(shape[1])
    ov.plot(xs, ys, color=color, lw=lw)


def brace(x0, x1, y):
    mid = (x0 + x1) / 2
    ov.plot([x0, x0 + 2, mid - 2, mid, mid + 2, x1 - 2, x1], [y - 3, y, y, y + 2, y, y, y - 3],
            color="#222222", lw=.9)


lab(215, 983, "AWA and AIY reporter strain", size=7.2, color=C_IB)
for cx, x0, x1, s in [(130, 83, 174, "AWA neuron"), (302, 257, 348, "AIY neurite")]:
    lab(cx, 998, s, size=7, color=C_IB)
    ov.plot([x0, x1], [1005, 1005], color=C_IB, lw=1.0)
for x, s in [(98, "Trial 1"), (139, "Trial 2"), (169, "..."), (271, "Trial 1"), (312, "Trial 2"), (345, "...")]:
    lab(x, 1012, s, size=5.8, color="#222222")
IB_ROWS = [1028, 1043, 1058, 1073, 1087]
IB_BASE = [1032, 1047, 1059, 1073, 1090]
c_mini = "#5555ee"
for k in range(5):
    lab(29, IB_ROWS[k], f"animal {k + 1}", size=7, color=C_IB, ha="left")
    mini(80, 111, IB_BASE[k], IB_H1[k], c_mini if k != 4 else "#2222cc", lw=.8 if k != 4 else 1.1)
    mini(118, 150, IB_BASE[k], IB_H2[k], c_mini)
    mini(256, 288, IB_BASE[k], IB_H3[k], c_mini if k != 4 else "#2222cc", lw=.8 if k != 4 else 1.1)
    if k == 0:
        mini(294, 326, IB_BASE[k], 11, c_mini, shape=(DBL_X, DBL_Y))
    else:
        mini(294, 326, IB_BASE[k], IB_H4[k], c_mini)
    lab(169, IB_ROWS[k] - 1, "...", size=5, color="#8888ee")
    lab(345, IB_BASE[k] - 3, "...", size=5, color="#8888ee")
ov.annotate("", xy=(249, 1096), xytext=(249, 1021),
            arrowprops=dict(arrowstyle="-|>", color="k", lw=1.0, mutation_scale=11, shrinkA=0, shrinkB=0))
lab(241, 1057, "$\\overline{X}$", size=7.5, color="#222222")
brace(247, 291, 1099)
ov.annotate("", xy=(269, 1154), xytext=(269, 1101),
            arrowprops=dict(arrowstyle="-|>", color="#333333", lw=.9, mutation_scale=8, shrinkA=0, shrinkB=0))
mini(248, 296, 1172, 14, C_IB, lw=1.0)
for x, y, s, c, sz in [(273, 1183, "Trial 1", "#222222", 8.8), (338, 1183, "Trial 2", "#222222", 8.8),
                       (391, 1183, "...", "#222222", 8.8), (337, 1169, "...", C_IB, 6), (390, 1169, "...", C_IB, 6),
                       (278, 1196, "AIYnr mean", C_IB, 7.5),
                       (273, 1249, "Trial 1", "#222222", 8.8), (338, 1249, "Trial 2", "#222222", 8.8),
                       (391, 1249, "...", "#222222", 8.8), (336, 1237, "...", C_IR, 6), (389, 1237, "...", C_IR, 6),
                       (279, 1262, "ASER mean", C_IR, 7.5)]:
    lab(x, y, s, size=sz, color=c)

lab(119, 1144, "pan-chemosen. strain", size=7, color=C_IR)
lab(147, 1168, "AWA neuron", size=7, color=C_IR)
ov.plot([101, 192], [1175, 1175], color=C_IR, lw=1.0)
for x, s in [(115, "Trial 1"), (156, "Trial 2"), (187, "...")]:
    lab(x, 1182, s, size=5.8, color="#222222")
IR_ROWS = [1198, 1212, 1227, 1242, 1257, 1272, 1287]
IR_BASE = [1202, 1217, 1232, 1246, 1262, 1275, 1290]
for k in range(7):
    lab(30, IR_ROWS[k], f"animal {k + 1}", size=7, color=C_IR, ha="left")
    mini(97, 128, IR_BASE[k], IR_H1[k], "#ff5555")
    mini(137, 168, IR_BASE[k], IR_H2[k], "#ff5555")
    lab(186, IR_ROWS[k] - 1, "...", size=5, color="#ff8888")
ov.annotate("", xy=(93, 1290), xytext=(93, 1188),
            arrowprops=dict(arrowstyle="-|>", color="k", lw=1.0, mutation_scale=11, shrinkA=0, shrinkB=0))
lab(87, 1237, "$\\overline{X}$", size=7.5, color="#222222")
brace(91, 129, 1296)
ov.plot([109, 109, 219, 219], [1297, 1304, 1304, 1238], color="#333333", lw=.9)
ov.annotate("", xy=(245, 1238), xytext=(219, 1238),
            arrowprops=dict(arrowstyle="-|>", color="#333333", lw=.9, mutation_scale=8, shrinkA=0, shrinkB=0))
mini(251, 299, 1239, 18, C_IR, lw=1.0)
lab(246, 1282, "Equivalent activities based", size=7.5, ha="left", color="#222222")
lab(246, 1294, "on trials", size=7.5, ha="left", color="#222222")

fig.savefig("out.png", dpi=100)
